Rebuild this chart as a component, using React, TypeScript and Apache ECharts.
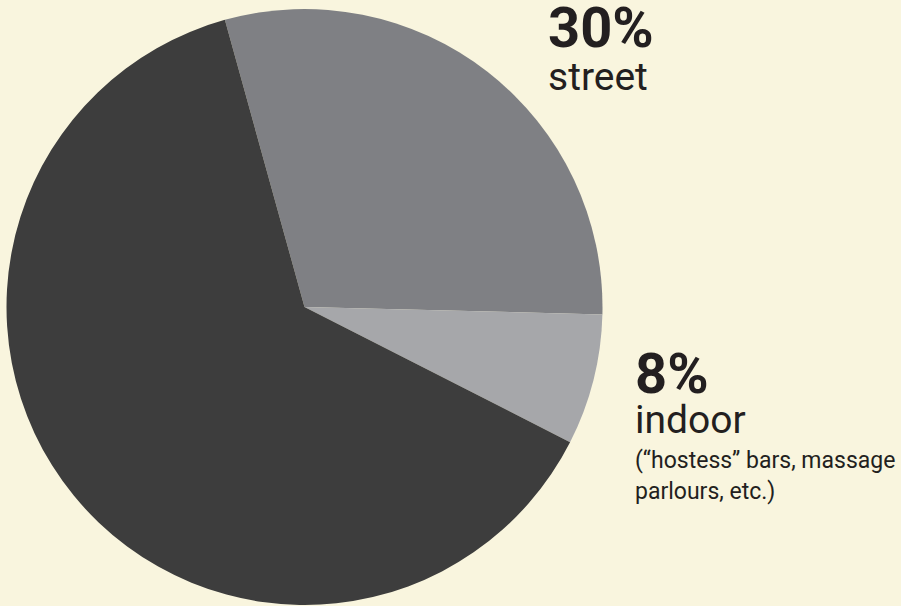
import React, { useEffect, useRef } from "react";
import * as echarts from "echarts";

// Slice shares as drawn (degrees, expressed in %)
const categories = ["street", "indoor", "other"];
const shares = [29.7, 7.1, 63.2];
const sliceColors = ["#7f8084", "#a6a7aa", "#3d3d3d"];

// Label texts
const pctLabels = ["30%", "8%"];
const nameLabels = ["street", "indoor"];
const noteLines = ["(“hostess” bars, massage", "parlours, etc.)"];

export default function App() {
  const ref = useRef<HTMLDivElement>(null);
  useEffect(() => {
    if (!ref.current) return;
    const chart = echarts.init(ref.current, undefined, { renderer: "svg" });
    const font = "Roboto, 'Noto Sans', sans-serif";
    const textColor = "#231f20";
    const txt = (x: number, y: number, text: string, size: number, weight: any, lh: number) => ({
      type: "text",
      x,
      y,
      silent: true,
      style: {
        text,
        fill: textColor,
        fontFamily: font,
        fontSize: size,
        fontWeight: weight,
        lineHeight: lh,
        align: "left",
        verticalAlign: "middle",
      },
    });
    chart.setOption({
      animation: false,
      backgroundColor: "#f9f5de",
      series: [
        {
          type: "pie",
          center: [304.5, 307],
          radius: 298,
          startAngle: 105.5,
          clockwise: true,
          label: { show: false },
          labelLine: { show: false },
          emphasis: { disabled: true },
          data: categories.map((c, i) => ({
            name: c,
            value: shares[i],
            itemStyle: { color: sliceColors[i], borderWidth: 0 },
          })),
        },
      ],
      graphic: [
        txt(548, 28, pctLabels[0], 56, "bold", 44),
        txt(548, 77, nameLabels[0], 39, "normal", 36),
        txt(635, 374, pctLabels[1], 56, "bold", 44),
        txt(635, 420, nameLabels[1], 39, "normal", 36),
        txt(635, 460, noteLines[0], 23, "normal", 26),
        txt(635, 491, noteLines[1], 23, "normal", 26),
      ],
    });
    return () => chart.dispose();
  }, []);
  return (
    <div
      ref={ref}
      style={{ position: "fixed", left: 0, top: 0, width: 901, height: 606 }}
    />
  );
}
